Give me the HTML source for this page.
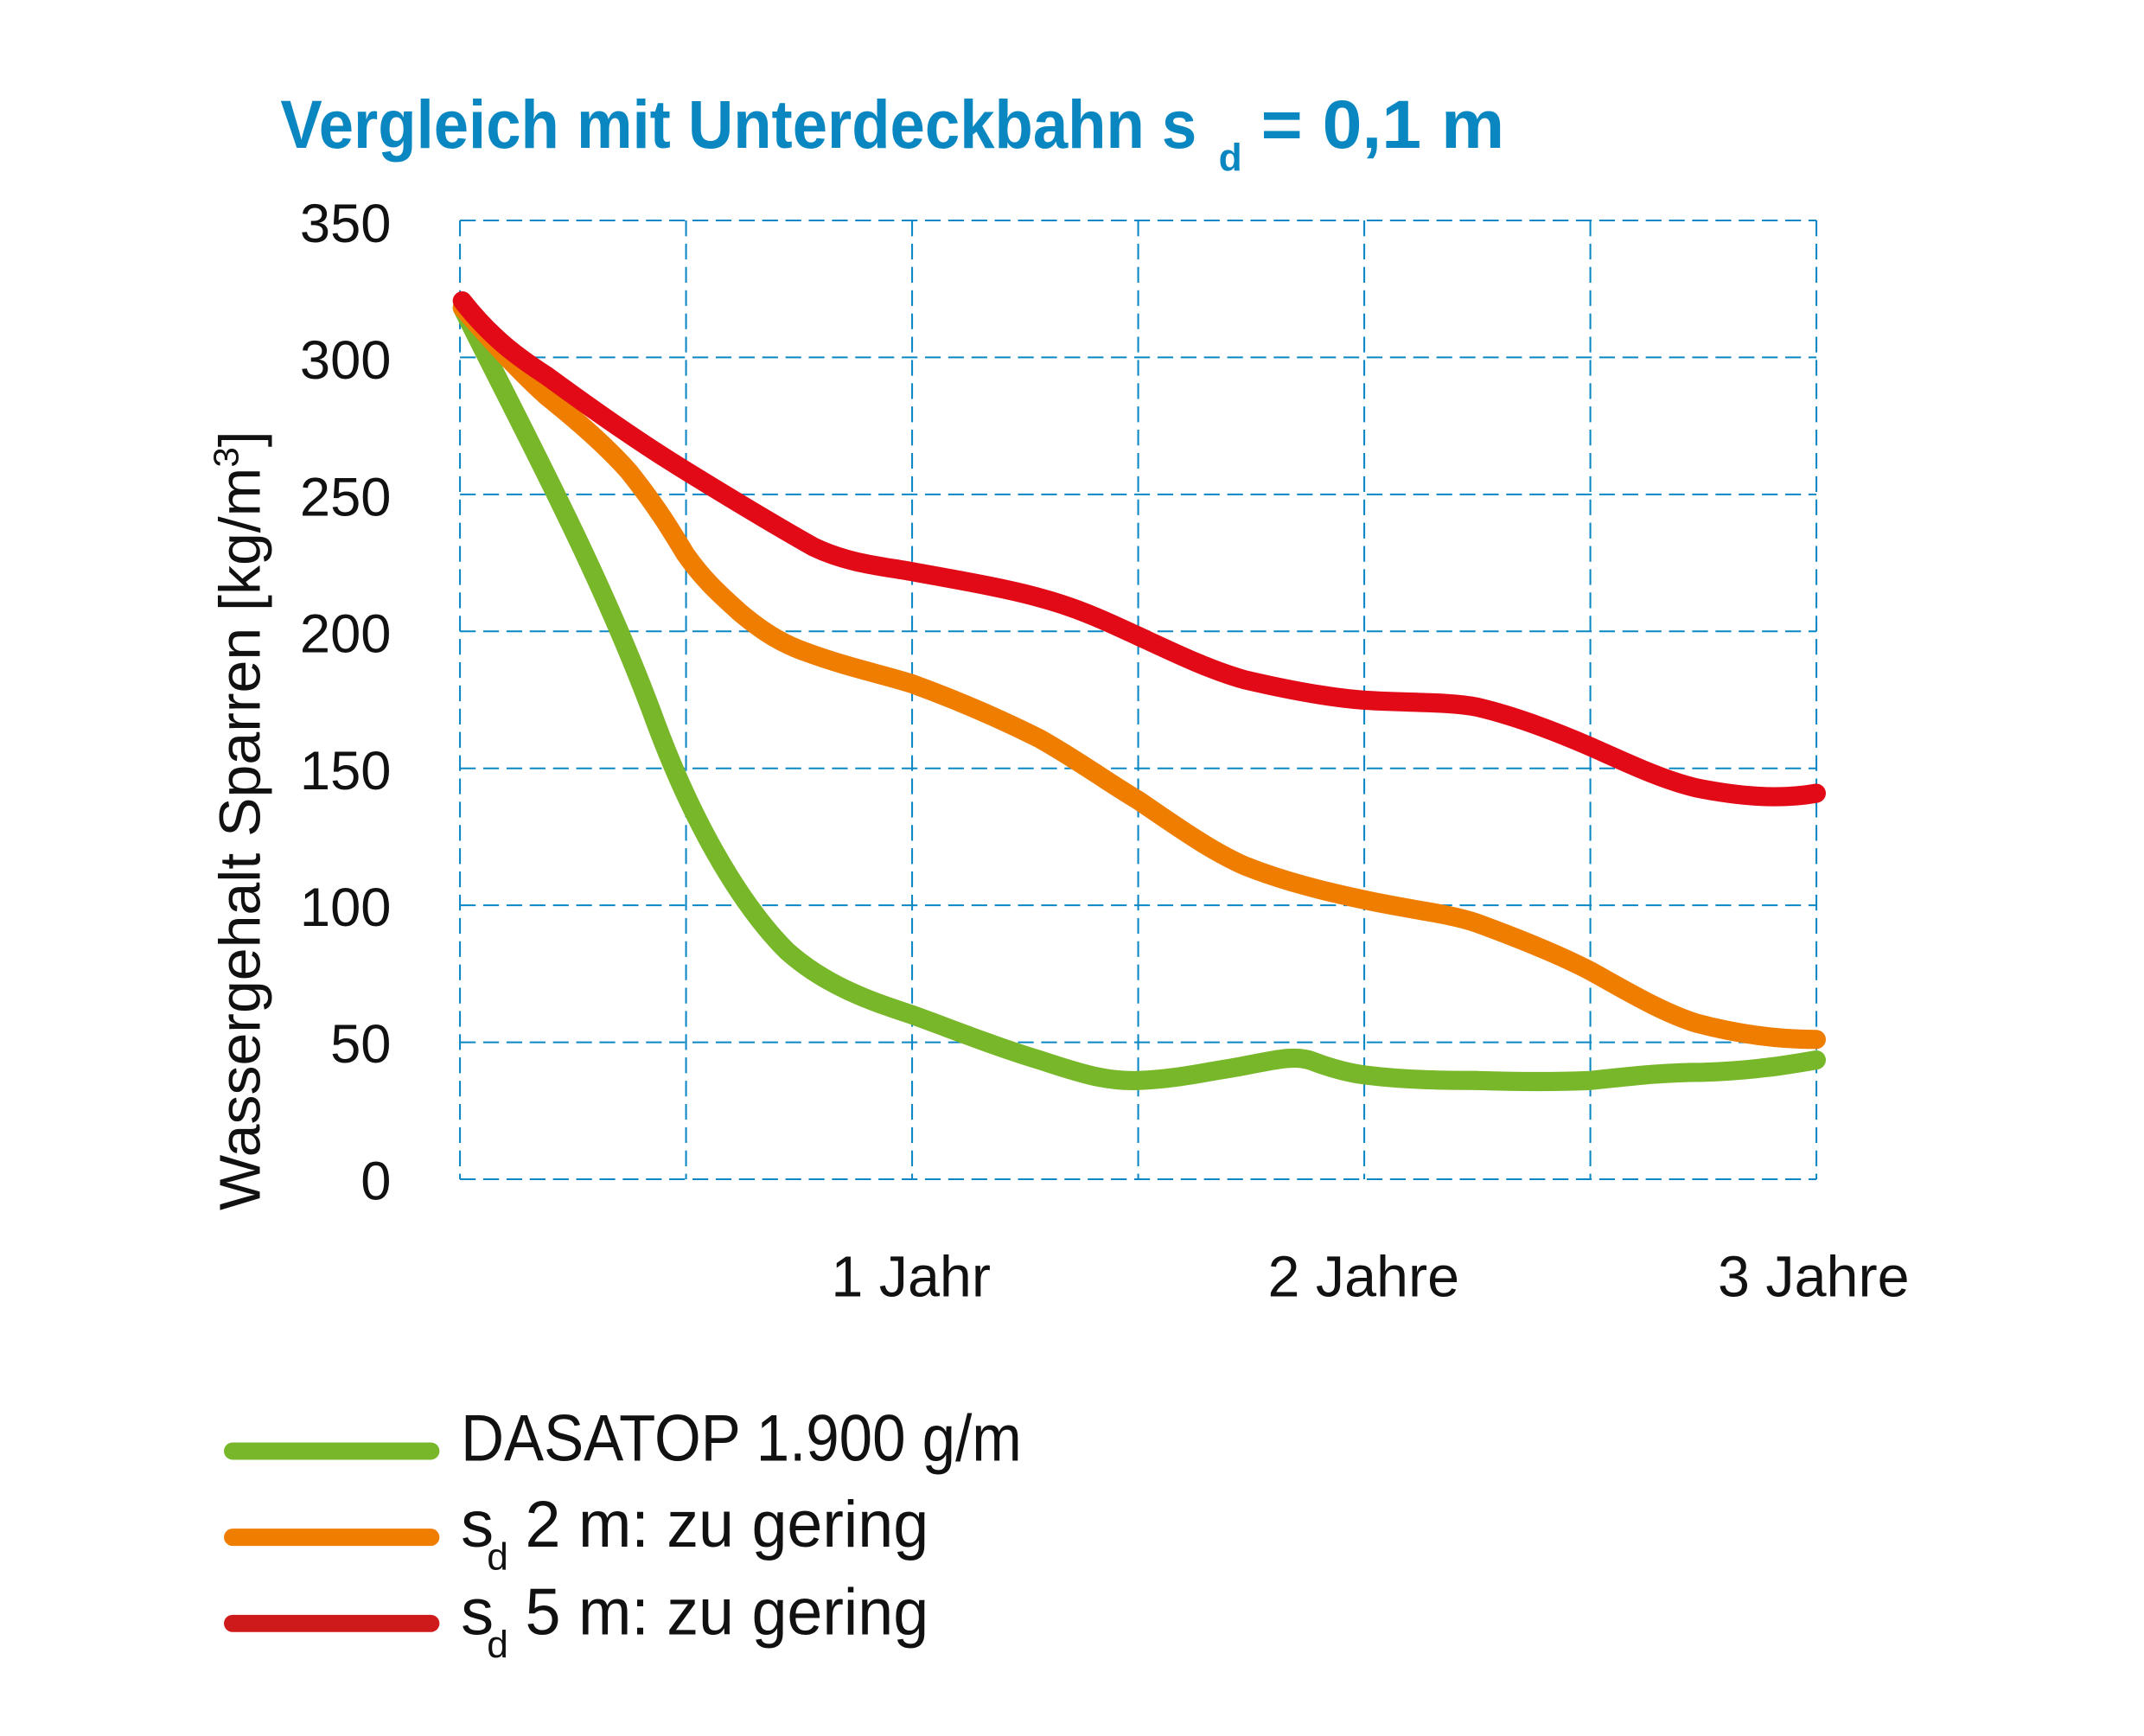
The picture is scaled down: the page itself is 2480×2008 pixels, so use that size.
<!DOCTYPE html>
<html><head><meta charset="utf-8"><style>html,body{margin:0;padding:0;background:#fff}svg{display:block}</style></head>
<body>
<svg width="2480" height="2008" viewBox="0 0 1567.6 1269.3" xmlns="http://www.w3.org/2000/svg" font-family="'Liberation Sans Narrow','Liberation Sans',sans-serif">
<rect width="1567.6" height="1269.3" fill="#fff"/>
<g stroke="#0a87c4" stroke-width="1.3" stroke-dasharray="11.5 5.5" fill="none">
<line x1="336.3" y1="161.2" x2="336.3" y2="862.2"/>
<line x1="501.6" y1="161.2" x2="501.6" y2="862.2"/>
<line x1="666.9" y1="161.2" x2="666.9" y2="862.2"/>
<line x1="832.2" y1="161.2" x2="832.2" y2="862.2"/>
<line x1="997.5" y1="161.2" x2="997.5" y2="862.2"/>
<line x1="1162.8" y1="161.2" x2="1162.8" y2="862.2"/>
<line x1="1328.1" y1="161.2" x2="1328.1" y2="862.2"/>
<line x1="336.3" y1="161.2" x2="1328.1" y2="161.2"/>
<line x1="336.3" y1="261.3" x2="1328.1" y2="261.3"/>
<line x1="336.3" y1="361.5" x2="1328.1" y2="361.5"/>
<line x1="336.3" y1="461.6" x2="1328.1" y2="461.6"/>
<line x1="336.3" y1="561.8" x2="1328.1" y2="561.8"/>
<line x1="336.3" y1="661.9" x2="1328.1" y2="661.9"/>
<line x1="336.3" y1="762.1" x2="1328.1" y2="762.1"/>
<line x1="336.3" y1="862.2" x2="1328.1" y2="862.2"/>
</g>
<g fill="none" stroke-linecap="round" stroke-linejoin="round" stroke-width="14">
<path stroke="#78b72a" d="M338,225 C380,310 440,420 480,530 C510,610 545,665 575,695 C605,722 640,733 667,742 C700,754 730,766 760,775 C790,785 810,791 832,790 C860,789 880,784 900,781 C925,777 945,770 960,776 C975,782 990,785 998,786 C1030,790 1060,790 1080,790 C1110,791 1140,791 1163,790 C1200,786 1220,784 1245,784 C1280,783 1305,779 1328,775"/>
<path stroke="#ef7d00" d="M338,225 C360,250 380,272 400,290 C425,310 445,328 460,345 C480,370 492,390 501,405 C515,425 528,436 540,447 C560,464 575,472 590,477 C620,488 645,493 667,500 C700,512 730,525 760,540 C790,557 810,572 832,585 C860,604 885,622 910,633 C940,645 970,652 998,658 C1030,665 1060,668 1080,675 C1110,686 1140,698 1163,710 C1190,725 1215,740 1240,748 C1270,756 1300,760 1328,760"/>
<path stroke="#e20a16" d="M338,220 C360,248 380,262 400,275 C430,297 470,325 501,344 C540,368 570,386 595,400 C620,412 645,414 667,418 C700,424 735,430 760,437 C790,445 810,455 832,465 C860,478 885,490 910,497 C940,504 970,510 998,512 C1030,514 1060,513 1080,517 C1110,524 1140,536 1163,546 C1190,558 1215,570 1240,576 C1270,582 1300,585 1328,580"/>
</g>
<text x="205" y="108" font-size="50" font-weight="bold" fill="#0a87c0" textLength="670" lengthAdjust="spacingAndGlyphs">Vergleich mit Unterdeckbahn s</text>
<text x="891" y="125" font-size="28" font-weight="bold" fill="#0a87c0">d</text>
<text x="922" y="108" font-size="50" font-weight="bold" fill="#0a87c0" textLength="178" lengthAdjust="spacingAndGlyphs">= 0,1 m</text>
<g font-size="40" fill="#111" text-anchor="end">
<text x="286" y="177">350</text>
<text x="286" y="277">300</text>
<text x="286" y="377">250</text>
<text x="286" y="477">200</text>
<text x="286" y="577">150</text>
<text x="286" y="677">100</text>
<text x="286" y="777">50</text>
<text x="286" y="877">0</text>
</g>
<text transform="translate(190,885) rotate(-90)" font-size="42" fill="#111" textLength="570" lengthAdjust="spacingAndGlyphs">Wassergehalt Sparren [kg/m<tspan font-size="26" dy="-16">3</tspan><tspan dy="16">]</tspan></text>
<g font-size="42" fill="#111" text-anchor="middle">
<text x="666" y="948">1 Jahr</text>
<text x="997" y="948">2 Jahre</text>
<text x="1326" y="948">3 Jahre</text>
</g>
<g stroke-linecap="round" stroke-width="12.6">
<line x1="170" y1="1061" x2="315" y2="1061" stroke="#78b72a"/>
<line x1="170" y1="1124" x2="315" y2="1124" stroke="#ef7d00"/>
<line x1="170" y1="1187" x2="315" y2="1187" stroke="#cf1a1c"/>
</g>
<g font-size="48" fill="#111">
<text x="337" y="1068" textLength="410" lengthAdjust="spacingAndGlyphs">DASATOP 1.900 g/m</text>
<text x="337" y="1131">s</text><text x="356" y="1148" font-size="28">d</text>
<text x="384" y="1131" textLength="295" lengthAdjust="spacingAndGlyphs">2 m: zu gering</text>
<text x="337" y="1195">s</text><text x="356" y="1212" font-size="28">d</text>
<text x="384" y="1195" textLength="295" lengthAdjust="spacingAndGlyphs">5 m: zu gering</text>
</g>
</svg>
</body></html>
